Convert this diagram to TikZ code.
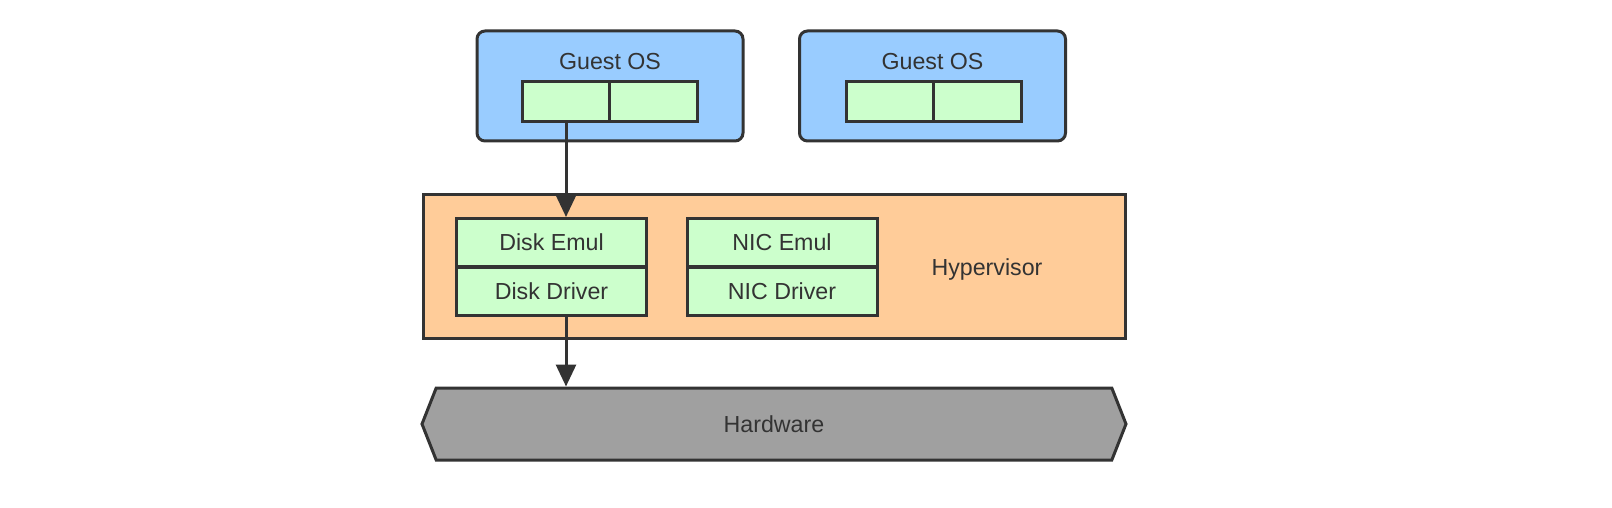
\documentclass[tikz,border=0pt]{standalone}
\usepackage{fontspec}
\setmainfont{Liberation Sans}
\usetikzlibrary{positioning,shapes.symbols,arrows.meta}
\definecolor{edgegray}{HTML}{333333}
\definecolor{guestblue}{HTML}{99CCFF}
\definecolor{hyperorange}{HTML}{FFCC99}
\definecolor{slotgreen}{HTML}{CCFFCC}
\definecolor{hwgray}{HTML}{A0A0A0}
\tikzset {
    style guest/.style={
        fill=guestblue,
        draw=edgegray,
        line width=1.5pt,
        rectangle, % Set the shape as a rectangle
        rounded corners=4pt,
        minimum width=133pt,
        minimum height=55pt,
    },
    style slot/.style={
        fill=slotgreen,
        draw=edgegray,
        line width=1.5pt,
        rectangle,
        minimum width=44pt,
        minimum height=20pt,
        inner sep=0pt,
    },
    style hyper/.style={
        fill=hyperorange,
        draw=edgegray,
        line width=1.5pt,
        rectangle,
        minimum width=351pt,
        minimum height=72pt,
    },
    style emul/.style={
        fill=slotgreen,
        draw=edgegray,
        line width=1.5pt,
        rectangle,
        minimum width=95pt,
        minimum height=24pt,
        inner sep=0pt,
        text=edgegray,
    },
    style hw/.style={
        fill=hwgray,
        draw=edgegray,
        line width=1.5pt,
        shape=signal, % pointed at both ends
        signal to=west and east,
        signal pointer angle=137,
        minimum width=352pt,
        minimum height=36pt,
        inner sep=0pt,
    },
    style text/.style={
        text=edgegray,
        inner sep=0pt,
    },
}

\begin{document}
\begin{tikzpicture}
        [x=0.5pt, y=-0.5pt, font=\fontsize{11.6}{14}\selectfont,
        link/.style={draw=edgegray, line width=1.5pt, -{Triangle[length=11pt, width=10pt]}}]

        \useasboundingbox (0,0) rectangle (1612,508);

        % guests
        \node[style guest] at (610,86) (guest1) {};
        \node[style text] at (610,62) (guest1 label) {Guest OS};
        \node[style slot] at (566,102) (slot1a) {};
        \node[style slot] at (653.5,102) (slot1b) {};

        \node[style guest] at (932.5,86) (guest2) {};
        \node[style text] at (932.5,62) (guest2 label) {Guest OS};
        \node[style slot] at (890,102) (slot2a) {};
        \node[style slot] at (977.5,102) (slot2b) {};

        % hypervisor
        \node[style hyper] at (774,266) (hyper) {};
        \node[style text] at (987,270) (hyper label) {Hypervisor};
        \node[style emul] at (551.5,242.5) (diskemul) {Disk Emul};
        \node[style emul] at (551.5,291) (diskdrv) {Disk Driver};
        \node[style emul] at (782,242.5) (nicemul) {NIC Emul};
        \node[style emul] at (782,291) (nicdrv) {NIC Driver};

        % hardware
        \node[style hw] at (774,424) (hw) {\textcolor{edgegray}{Hardware}};

        \draw[link] (slot1a.south)  -- (slot1a.south |- diskemul.north);
        \draw[link] (slot1a.south |- diskdrv.south)  -- (slot1a.south |- hw.north);
    \end{tikzpicture}
\end{document}
